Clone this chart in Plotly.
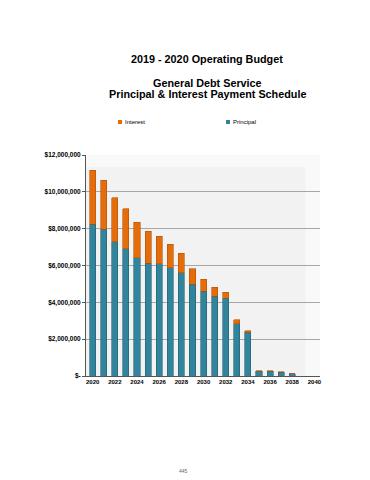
import plotly.graph_objects as go

years = list(range(2020, 2039))
totals = [11.18, 10.64, 9.68, 9.07, 8.36, 7.85, 7.58, 7.15, 6.66, 5.83, 5.25,
          4.81, 4.56, 3.05, 2.45, 0.29, 0.28, 0.22, 0.13]
principal_m = [8.24, 7.96, 7.29, 6.91, 6.42, 6.13, 6.10, 5.88, 5.61, 4.98, 4.60,
               4.32, 4.21, 2.85, 2.38, 0.26, 0.26, 0.20, 0.12]
principal = [p * 1e6 for p in principal_m]
interest = [(t - p) * 1e6 for t, p in zip(totals, principal_m)]

tick_vals = [0, 2e6, 4e6, 6e6, 8e6, 10e6, 12e6]
tick_text = ["$-", "$2,000,000", "$4,000,000", "$6,000,000", "$8,000,000",
             "$10,000,000", "$12,000,000"]
x_ticks = list(range(2020, 2041, 2))

TEAL = "#31849b"
ORANGE = "#e46c0a"

# Figure sits inside the page's 8px body margin
W, H = 362, 472
L, R, T, B = 78, 50, 147, 104

fig = go.Figure()
fig.add_trace(go.Bar(x=years, y=principal, name="Principal",
                     marker=dict(color=TEAL, line=dict(color="#215f70", width=0.6)),
                     width=0.55))
fig.add_trace(go.Bar(x=years, y=interest, name="Interest",
                     marker=dict(color=ORANGE, line=dict(color="#b35408", width=0.6)),
                     width=0.55))

fig.update_layout(
    width=W, height=H,
    barmode="stack",
    paper_bgcolor="white",
    plot_bgcolor="#f2f2f2",
    font=dict(family="Liberation Sans, Arial, sans-serif", color="black"),
    margin=dict(l=L, r=R, t=T, b=B),
    showlegend=False,
    xaxis=dict(range=[2019.4, 2040.5], tickvals=x_ticks,
               ticktext=[f"<b>{v}</b>" for v in x_ticks],
               tickfont=dict(size=6), showgrid=False, showline=True,
               linecolor="#555555", linewidth=1, ticks="", zeroline=False),
    yaxis=dict(range=[0, 12e6], tickvals=tick_vals,
               ticktext=[f"<b>{t}</b>" for t in tick_text],
               tickfont=dict(size=6.5), showgrid=True, gridcolor="#a6a6a6",
               gridwidth=1, showline=True, linecolor="#555555", linewidth=1,
               ticks="outside", ticklen=3, tickcolor="#555555", zeroline=False),
)

# lighter (dotted-looking) bands at top and right of the plot area
fig.add_shape(type="rect", xref="x", yref="y", x0=2019.4, x1=2040.5,
              y0=11.35e6, y1=12e6, fillcolor="#f9f9f9", line=dict(width=0),
              layer="below")
fig.add_shape(type="rect", xref="x", yref="y", x0=2039.2, x1=2040.5,
              y0=0, y1=12e6, fillcolor="#f9f9f9", line=dict(width=0),
              layer="below")

pw = W - L - R
ph = H - T - B
def px(x):
    return (x - L) / pw
def py(y):
    return (H - B - y) / ph

cx = px(199)
for txt, y in [("<b>2019 - 2020 Operating Budget</b>", 51),
               ("<b>General Debt Service</b>", 75),
               ("<b>Principal & Interest Payment Schedule</b>", 86)]:
    fig.add_annotation(text=txt, xref="paper", yref="paper", x=cx, y=py(y),
                       showarrow=False, font=dict(size=10.8),
                       xanchor="center", yanchor="middle")

# Legend (small squares + labels)
for label, color, lx in [("Interest", ORANGE, 110), ("Principal", TEAL, 218)]:
    fig.add_shape(type="rect", xref="paper", yref="paper",
                  x0=px(lx), x1=px(lx + 4), y0=py(116), y1=py(112),
                  fillcolor=color, line=dict(width=0))
    fig.add_annotation(text=label, xref="paper", yref="paper", x=px(lx + 4.5),
                       y=py(114), showarrow=False, font=dict(size=6),
                       xanchor="left", yanchor="middle")

fig.add_annotation(text="445", xref="paper", yref="paper", x=px(175),
                   y=py(463), showarrow=False, font=dict(size=5, color="#666666"),
                   xanchor="center", yanchor="middle")

fig.write_html("out.html")
